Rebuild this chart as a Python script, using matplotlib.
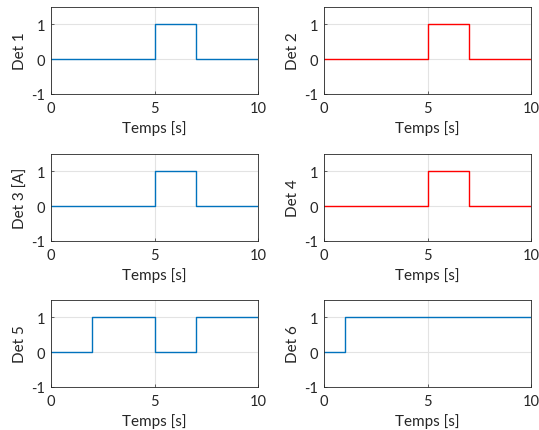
import matplotlib
matplotlib.use("Agg")
import matplotlib.pyplot as plt

# Data: breakpoints and step values (steps-post)
t1 = [0, 5, 7, 10]; v1 = [0, 1, 0, 0]
t2 = [0, 5, 7, 10]; v2 = [0, 1, 0, 0]
t3 = [0, 5, 7, 10]; v3 = [0, 1, 0, 0]
t4 = [0, 5, 7, 10]; v4 = [0, 1, 0, 0]
t5 = [0, 2, 5, 7, 10]; v5 = [0, 1, 0, 1, 1]
t6 = [0, 1, 10]; v6 = [0, 1, 1]

ylabels = ["Det 1", "Det 2", "Det 3 [A]", "Det 4", "Det 5", "Det 6"]
xlabel = "Temps [s]"
xticks = [0, 5, 10]
yticks = [-1, 0, 1]

blue = (0, 0.447, 0.741)
red = (1, 0, 0)
colors = [blue, red, blue, red, blue, blue]
series = [(t1, v1), (t2, v2), (t3, v3), (t4, v4), (t5, v5), (t6, v6)]

plt.rcParams['font.family'] = ['Lato', 'DejaVu Sans']

W, H = 539, 431
fig = plt.figure(figsize=(W / 100, H / 100), dpi=100)

lefts = [51, 324]
widths = [207, 207]
tops = [8, 155, 301]
height = 87

for i, ((t, v), c, yl) in enumerate(zip(series, colors, ylabels)):
    r, col = divmod(i, 2)
    ax = fig.add_axes([lefts[col] / W, 1 - (tops[r] + height) / H, widths[col] / W, height / H])
    ax.plot(t, v, drawstyle='steps-post', color=c, lw=1.0)
    ax.set_xlim(0, 10)
    ax.set_ylim(-1, 1.5)
    ax.set_xticks(xticks)
    ax.set_yticks(yticks)
    ax.set_xticklabels([str(x) for x in xticks])
    ax.set_yticklabels([str(y) for y in yticks])
    ax.grid(True, color='#e3e3e3', lw=0.8)
    ax.set_axisbelow(True)
    ax.tick_params(direction='in', length=2, width=0.5, colors='#262626', labelsize=10.5)
    ax.tick_params(axis='x', pad=5)
    ax.tick_params(axis='y', pad=4)
    for s in ax.spines.values():
        s.set_color('#262626')
        s.set_linewidth(0.6)
    ax.set_xlabel(xlabel, fontsize=11, color='#262626', labelpad=4)
    ax.set_ylabel(yl, fontsize=11, color='#262626', labelpad=3)

fig.savefig("out.png", dpi=100)
